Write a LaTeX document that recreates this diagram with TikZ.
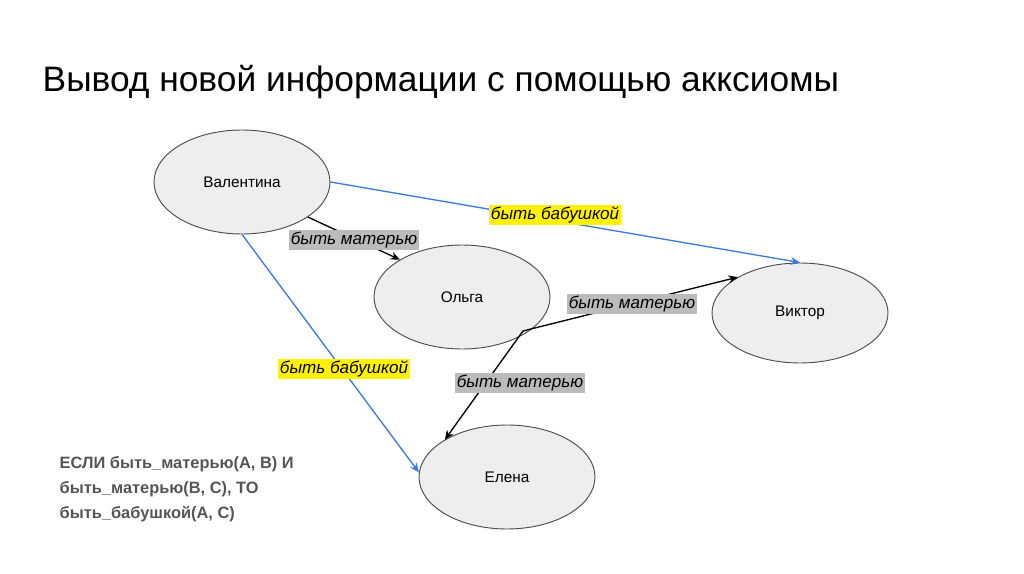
\documentclass[tikz,border=0pt]{standalone}
\usepackage{fontspec}
\setmainfont{Liberation Sans}
\usetikzlibrary{shapes.geometric,arrows.meta}
\definecolor{ellf}{HTML}{EEEEEE}
\definecolor{bl}{HTML}{3A7BE0}
\definecolor{lg}{HTML}{BBBBBB}
\definecolor{tg}{HTML}{555555}
\begin{document}
\begin{tikzpicture}[x=0.75pt,y=-0.75pt,
  ell/.style={ellipse,draw=black!70,fill=ellf,line width=0.7pt,font=\fontsize{11.5}{13}\selectfont},
  blk/.style={draw=black,line width=1pt,-{Stealth[length=7pt,width=6pt]}},
  blu/.style={draw=bl,line width=1pt,-{Stealth[length=7pt,width=6pt]}},
  lab/.style={inner sep=1.2pt,font=\itshape\fontsize{12.8}{14}\selectfont},
  ylab/.style={lab,fill=yellow},
  glab/.style={lab,fill=lg}]
\useasboundingbox (0,0) rectangle (1024,574);
\node[anchor=west,font=\fontsize{26.5}{30}\selectfont] (title) at (38,82) {Вывод новой информации с помощью акксиомы};
\node[ell,minimum width=176pt*0.75,minimum height=104pt*0.75] (v) at (242,182) {Валентина};
\node[ell,minimum width=176pt*0.75,minimum height=104pt*0.75] (o) at (462,297) {Ольга};
\node[ell,minimum width=176pt*0.75,minimum height=100pt*0.75] (w) at (800,313) {Виктор};
\node[ell,minimum width=176pt*0.75,minimum height=104pt*0.75] (e) at (507,477) {Елена};
\coordinate (os) at (523,331);
\draw[blk] (v.-28) -- (o.149);
\draw[blk] (os) -- (w.150);
\draw[blk] (os) -- (e.149);
\draw[blu] (v.east) -- (w.90);
\draw[blu] (v.-90) -- (e.177);
\node[glab] (l1) at (354,240) {быть матерью};
\node[ylab] (l2) at (555,215) {быть бабушкой};
\node[glab] (l3) at (632,304) {быть матерью};
\node[ylab] (l4) at (344,369) {быть бабушкой};
\node[glab] (l5) at (520,383) {быть матерью};
\node[anchor=north west,align=left,text=tg,font=\bfseries\fontsize{12.3}{18.8}\selectfont] (rule) at (55,452) {ЕСЛИ быть\_матерью(А, В) И\\быть\_матерью(В, С), ТО\\быть\_бабушкой(А, С)};
\end{tikzpicture}
\end{document}
